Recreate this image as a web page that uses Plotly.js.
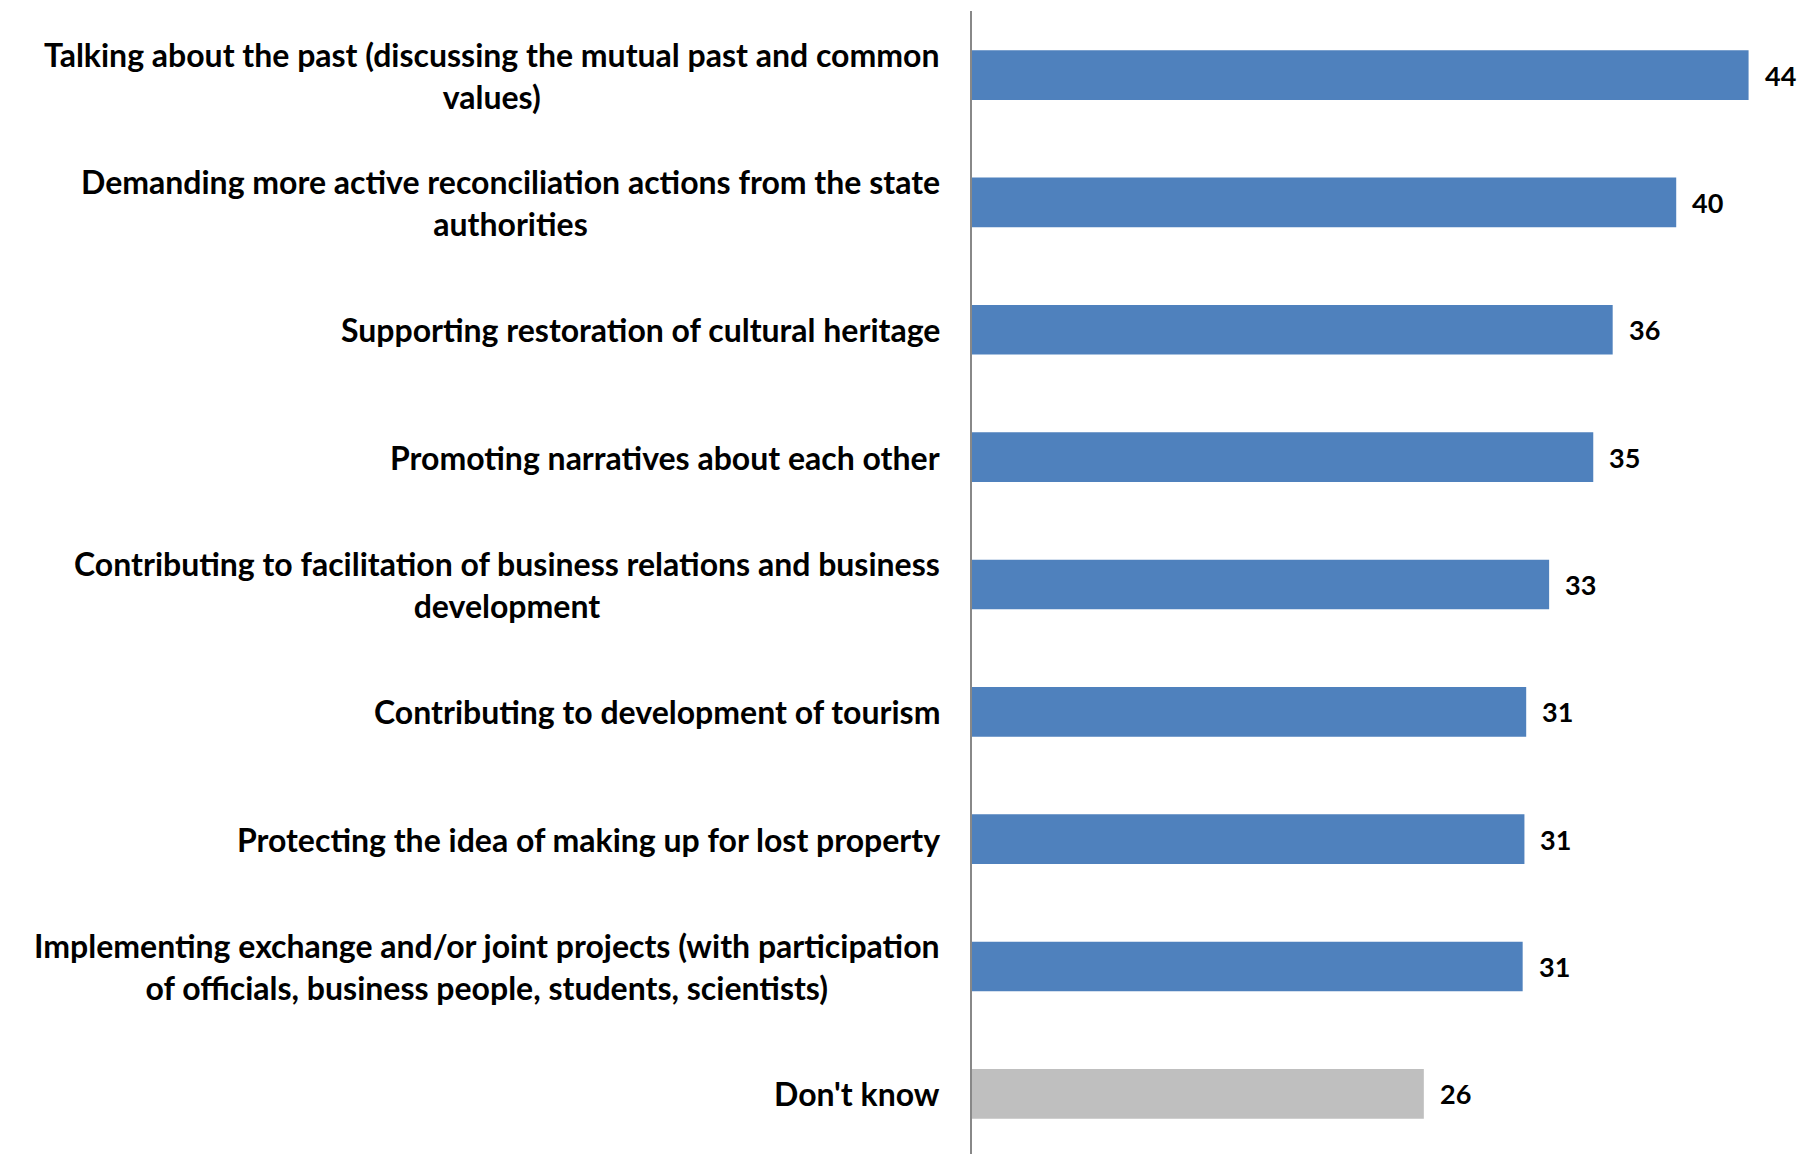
<!DOCTYPE html>
<html>
<head>
<meta charset="utf-8">
<script src="https://cdn.plot.ly/plotly-3.0.1.min.js"></script>
<style>html,body{margin:0;padding:0;background:#fff;}#chart{width:1798px;height:1154px;}</style>
</head>
<body>
<div id="chart"></div>
<script>
const categories = [
  "Talking about the past (discussing the mutual past and common<br>values)",
  "Demanding more active reconciliation actions from the state<br>authorities",
  "Supporting restoration of cultural heritage",
  "Promoting narratives about each other",
  "Contributing to facilitation of business relations and business<br>development",
  "Contributing to development of tourism",
  "Protecting the idea of making up for lost property",
  "Implementing exchange and/or joint projects (with participation<br>of officials, business people, students, scientists)",
  "Don't know"
];
const values = [44, 39.9, 36.3, 35.2, 32.7, 31.4, 31.3, 31.2, 25.6];
const valueLabels = ["44", "40", "36", "35", "33", "31", "31", "31", "26"];
const barColors = ["#4F81BD","#4F81BD","#4F81BD","#4F81BD","#4F81BD","#4F81BD","#4F81BD","#4F81BD","#BFBFBF"];

const ids = categories.map((c, i) => "c" + i);

const trace = {
  type: "bar",
  orientation: "h",
  x: values,
  y: ids,
  marker: {color: barColors, line: {width: 0}},
  hoverinfo: "none"
};

const FONT = "Lato, 'Open Sans', sans-serif";
const annotations = [];
categories.forEach((c, i) => {
  annotations.push({
    xref: "paper", yref: "y", x: 0, y: ids[i],
    xanchor: "right", yanchor: "middle", xshift: -30,
    align: "center", showarrow: false, text: "<b>" + c + "</b>",
    font: {family: FONT, size: 32, color: "#000"}
  });
  annotations.push({
    xref: "x", yref: "y", x: values[i], y: ids[i],
    xanchor: "left", yanchor: "middle", xshift: 14,
    showarrow: false, text: "<b>" + valueLabels[i] + "</b>",
    font: {family: FONT, size: 27, color: "#000"}
  });
});

const layout = {
  width: 1798, height: 1154,
  margin: {l: 972, r: 0, t: 11, b: 0, pad: 0},
  paper_bgcolor: "#fff", plot_bgcolor: "#fff",
  showlegend: false,
  bargap: 0.61,
  xaxis: {range: [0, 46.8], showgrid: false, zeroline: false, showticklabels: false, showline: false, ticks: ""},
  yaxis: {range: [8.472, -0.503], showticklabels: false, ticks: "", showgrid: false, zeroline: false,
          showline: true, linecolor: "#888888", linewidth: 2},
  annotations: annotations
};

Plotly.newPlot("chart", [trace], layout, {displayModeBar: false, staticPlot: true});
</script>
</body>
</html>
